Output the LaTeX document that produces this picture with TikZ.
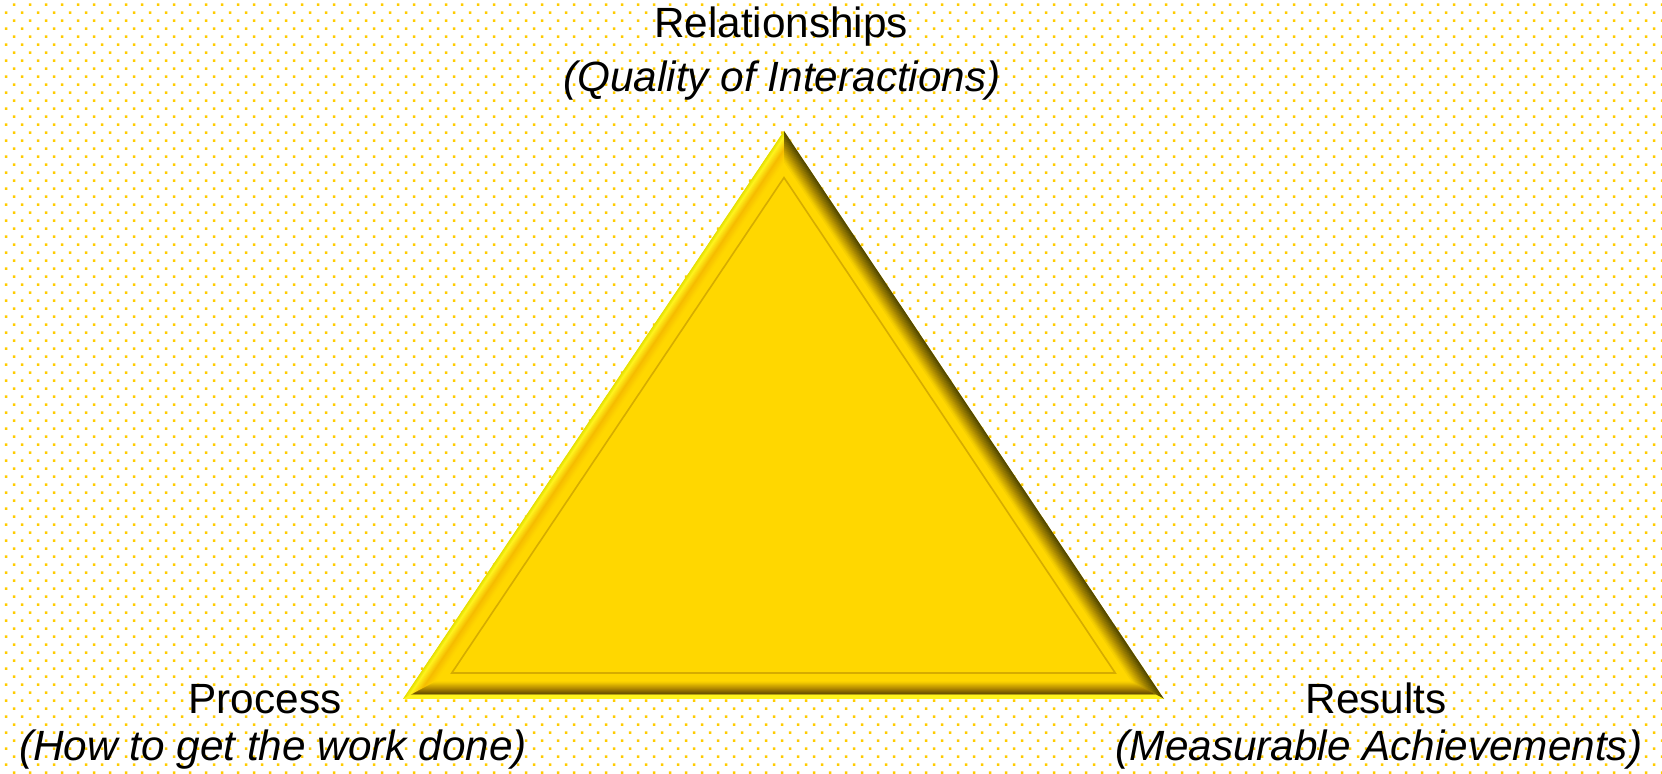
\documentclass[tikz,border=0pt]{standalone}
\usepackage{fontspec}
\setmainfont{Liberation Sans}
\usepackage{xcolor}
\definecolor{dotgold}{RGB}{255,204,0}
\definecolor{facegold}{RGB}{255,215,0}
\definecolor{bevlime}{RGB}{228,224,0}
\definecolor{bevbright}{RGB}{255,244,30}
\definecolor{bevorange}{RGB}{246,188,0}
\definecolor{bevdark}{RGB}{80,70,0}
\definecolor{bevolive}{RGB}{176,142,0}
\definecolor{bevbrown}{RGB}{108,82,0}
\definecolor{bevamber}{RGB}{180,138,0}
\definecolor{groove}{RGB}{214,172,0}
\usepackage{tikz}

% corners of the triangle pulled in by #1 px
\newcommand\bvcorners[1]{%
  \pgfmathsetmacro\bvTy{131+1.792*(#1)}%
  \pgfmathsetmacro\bvLx{403+1.876*(#1)}%
  \pgfmathsetmacro\bvRx{1164-1.876*(#1)}%
  \pgfmathsetmacro\bvBy{699-(#1)}}
% one side of the bevel, strip by strip: corners, from, to, colour from, colour to
\newcommand\bevel[6]{%
  \pgfmathtruncatemacro\bvEnd{#4-1}%
  \foreach \d in {#3,...,\bvEnd}{%
    \pgfmathtruncatemacro\bvP{100*(\d-#3)/(#4-#3)}%
    \colorlet{bvstrip}{#6!\bvP!#5}%
    \bvcorners{\d}%
    \path (#1) coordinate (bva) (#2) coordinate (bvb);%
    \bvcorners{\d+1.4}%
    \fill[bvstrip] (bva) -- (bvb) -- (#2) -- (#1) -- cycle;}}

\begin{document}
\begin{tikzpicture}[x=0.5pt,y=-0.5pt,
lbl/.style={font=\fontsize{21.15}{25}\selectfont,inner sep=0pt,anchor=base},
sub/.style={lbl,font=\fontsize{21.15}{25}\selectfont\itshape}]
\useasboundingbox (0,0) rectangle (1662,774);
\fill[white] (0,0) rectangle (1662,774);
% dotted paper
\foreach \r in {0,...,48}{
  \fill[dotgold] \foreach \c in {0,...,103}{(12.8+16*\c,3.3+16*\r) rectangle ++(2.5,2.5)};
  \fill[dotgold] \foreach \c in {0,...,103}{(4.8+16*\c,11.3+16*\r) rectangle ++(2.5,2.5)};
}
% triangle face
\fill[facegold] (784,131) -- (1164,699) -- (403,699) -- cycle;
% bevel: light on the left, shadow on the right and below
\bevel{\bvLx,\bvBy}{784,\bvTy}{0}{3}{bevlime}{bevbright}
\bevel{\bvLx,\bvBy}{784,\bvTy}{3}{10}{bevbright}{bevorange}
\bevel{\bvLx,\bvBy}{784,\bvTy}{10}{17}{bevorange}{facegold}
\bevel{784,\bvTy}{\bvRx,\bvBy}{0}{9}{bevdark}{bevolive}
\bevel{784,\bvTy}{\bvRx,\bvBy}{9}{17}{bevolive}{facegold}
\bevel{\bvRx,\bvBy}{\bvLx,\bvBy}{0}{3}{bevbright}{bevbright}
\bevel{\bvRx,\bvBy}{\bvLx,\bvBy}{3}{5}{bevbright}{bevbrown}
\bevel{\bvRx,\bvBy}{\bvLx,\bvBy}{5}{10}{bevbrown}{bevamber}
\bevel{\bvRx,\bvBy}{\bvLx,\bvBy}{10}{17}{bevamber}{facegold}
% inner groove
\bvcorners{26}
\draw[groove,line width=0.8pt,line join=miter] (784,\bvTy) -- (\bvRx,\bvBy) -- (\bvLx,\bvBy) -- cycle;
% labels
\node[lbl] (rel) at (781,38) {Relationships};
\node[sub] (relsub) at (782,92) {(Quality of Interactions)};
\node[lbl] (proc) at (265,714) {Process};
\node[sub] (procsub) at (273,761) {(How to get the work done)};
\node[lbl] (res) at (1376,714) {Results};
\node[sub] (ressub) at (1379,761) {(Measurable Achievements)};
\end{tikzpicture}
\end{document}
